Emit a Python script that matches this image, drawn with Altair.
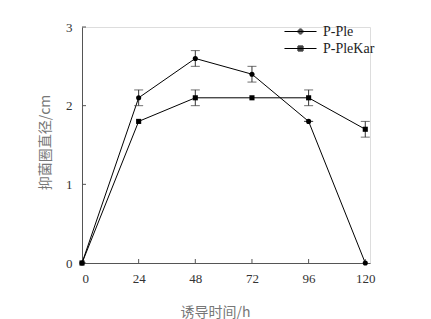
import altair as alt
import pandas as pd

hours = [0, 24, 48, 72, 96, 120]
series_names = ["P-Ple", "P-PleKar"]
ple = [0, 2.1, 2.6, 2.4, 1.8, 0]
ple_err = [None, 0.1, 0.1, 0.1, 0.0, None]
kar = [0, 1.8, 2.1, 2.1, 2.1, 1.7]
kar_err = [None, None, 0.1, None, 0.1, 0.1]
x_ticks = [0, 24, 48, 72, 96, 120]
y_ticks = [0, 1, 2, 3]

rows = []
for name, vals, errs in [(series_names[0], ple, ple_err), (series_names[1], kar, kar_err)]:
    for h, v, e in zip(hours, vals, errs):
        rows.append({"h": h, "v": v, "series": name,
                     "lo": None if e is None else v - e,
                     "hi": None if e is None else v + e})
df = pd.DataFrame(rows)

W, H = 288, 236
serif = "Liberation Serif"
cjk = "Noto Sans CJK SC"
YT = "抑菌圈直径/cm"

xs = alt.Scale(domain=[0, 122], nice=False)
ys = alt.Scale(domain=[0, 3], nice=False)

# legend symbol paths (unit = 1/9 px at symbolSize 324): line segment + solid marker
def _circ(r):
    return f"M{-r:.3f},0 A{r:.3f},{r:.3f} 0 1,0 {r:.3f},0 A{r:.3f},{r:.3f} 0 1,0 {-r:.3f},0 Z"

def _sq(r):
    return f"M{-r:.3f},{-r:.3f} H{r:.3f} V{r:.3f} H{-r:.3f} Z"

radii = [0.5 / 9, 1.5 / 9, 2.5 / 9]
circle_path = "M-1.78,0 H1.78 " + " ".join(_circ(r) for r in radii)
square_path = "M-1.78,0 H1.78 " + " ".join(_sq(r) for r in radii)

x_axis = alt.Axis(values=x_ticks, ticks=False, grid=False, labelFont=serif, labelFontSize=13,
                  labelColor="#333", domainColor="#555", labelPadding=9,
                  title="诱导时间/h", titleFont=cjk, titleFontSize=14, titleFontWeight="normal",
                  titleColor="#777", titleX=133, titleY=42, titleAlign="center")
y_axis = alt.Axis(values=y_ticks, ticks=False, grid=False, labelFont=serif, labelFontSize=13,
                  labelColor="#333", domainColor="#555", labelPadding=10, format="d",
                  title=YT, titleFont=cjk, titleFontSize=14, titleFontWeight="normal",
                  titleColor="#777", titleX=-37, titleY=115, titleAngle=270,
                  titleAlign="center", titleBaseline="middle")

base = alt.Chart(df)

lines = base.mark_line(color="black", strokeWidth=1).encode(
    x=alt.X("h:Q", scale=xs, axis=x_axis),
    y=alt.Y("v:Q", scale=ys, axis=y_axis),
    detail="series:N",
)

err = base.transform_filter("datum.lo != null").mark_errorbar(
    ticks=alt.MarkConfig(size=9, color="#333", strokeWidth=1), rule=alt.MarkConfig(color="#333", strokeWidth=1)
).encode(
    x=alt.X("h:Q", scale=xs),
    y=alt.Y("lo:Q", scale=ys, title=YT),
    y2="hi:Q",
)

points = base.mark_point(filled=True, color="black", size=26, opacity=1).encode(
    x=alt.X("h:Q", scale=xs),
    y=alt.Y("v:Q", scale=ys, title=YT),
    shape=alt.Shape("series:N", scale=alt.Scale(domain=series_names, range=["circle", "square"]), legend=None),
)

legend_shape = base.transform_filter("datum.h < 0").mark_point(
    filled=False, color="black", strokeWidth=1, opacity=1, size=324
).encode(
    x=alt.X("h:Q", scale=xs),
    y=alt.Y("v:Q", scale=ys, title=YT),
    shape=alt.Shape(
        "series:N",
        scale=alt.Scale(domain=series_names, range=[circle_path, square_path]),
        legend=alt.Legend(
            title=None, orient="none", legendX=209, legendY=-5, padding=0,
            symbolSize=324, symbolStrokeColor="black",
            symbolStrokeWidth=1, symbolOpacity=1,
            labelFont=serif, labelFontSize=14,
            labelColor="#222", labelOffset=13, rowPadding=0,
        ),
    ),
)

y_tick_rules = alt.Chart(pd.DataFrame({"t": y_ticks})).mark_rule(color="#555", strokeWidth=1).encode(
    y=alt.Y("t:Q", scale=ys, title=YT), x=alt.value(0), x2=alt.value(4)
)
x_tick_rules = alt.Chart(pd.DataFrame({"t": x_ticks[1:]})).mark_rule(color="#555", strokeWidth=1).encode(
    x=alt.X("t:Q", scale=xs), y=alt.value(H), y2=alt.value(H - 4)
)

chart = alt.layer(y_tick_rules, x_tick_rules, lines, err, points, legend_shape).resolve_scale(
    shape="independent"
).properties(
    width=W, height=H,
    autosize=alt.AutoSizeParams(type="none"),
    padding={"left": 82, "top": 27, "right": 61, "bottom": 56},
).configure_view(stroke=None).configure(background="white")

chart.save("out.html", embed_options={"renderer": "svg", "actions": False})
